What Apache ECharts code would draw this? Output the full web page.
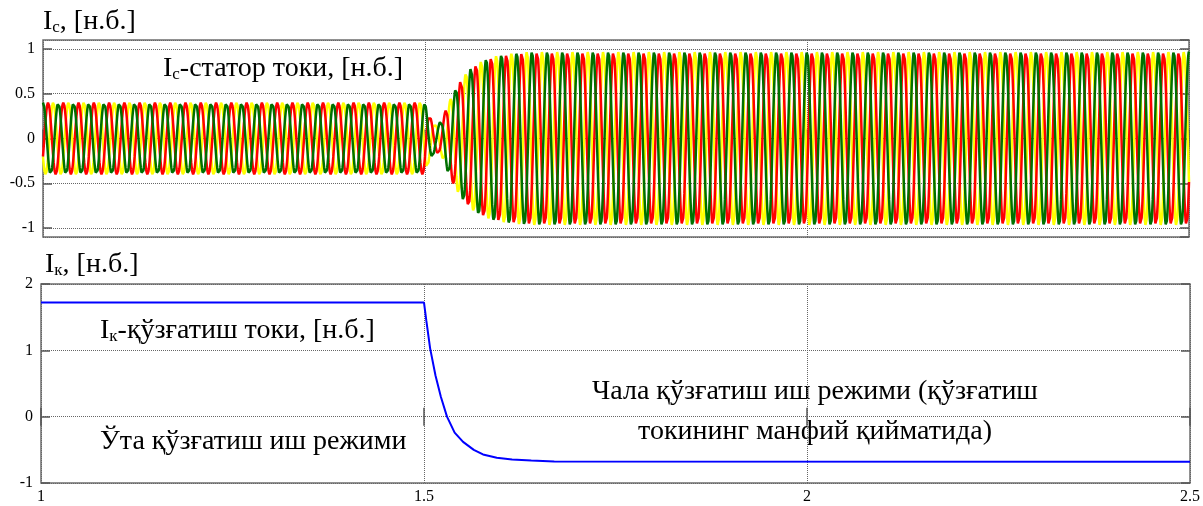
<!DOCTYPE html>
<html>
<head>
<meta charset="utf-8">
<script src="https://cdn.jsdelivr.net/npm/echarts@6/dist/echarts.min.js"></script>
<style>
  html, body { margin: 0; background: #fff; }
  #chart { width: 1203px; height: 506px; }
</style>
</head>
<body>
<div id="chart"></div>
<script>
// values
const timeMin = 1, timeMax = 2.5;
const statorRange = [-1.1, 1.1];
const fieldRange = [-1, 2];

// stator current amplitude envelope (t, amplitude)
const envTime = [1, 1.5, 1.506, 1.514, 1.522, 1.53, 1.538, 1.547, 1.56, 1.575, 1.59, 1.61, 1.635, 1.67, 2.5];
const envAmp  = [0.4, 0.4, 0.25, 0.15, 0.2, 0.38, 0.52, 0.66, 0.79, 0.87, 0.92, 0.95, 0.97, 0.97, 0.97];
const mainsHz = 50;
const phaseNames = ['A', 'B', 'C'];
const phaseColors = ['#007000', '#ff0000', '#ffff00'];
const phaseShift = [0, 1, 2]; // multiples of 120 degrees

// field (excitation) current
const fieldTime  = [1, 1.5, 1.503, 1.508, 1.515, 1.522, 1.53, 1.54, 1.551, 1.565, 1.577, 1.595, 1.615, 1.64, 1.67, 2.5];
const fieldValue = [1.72, 1.72, 1.45, 1.03, 0.62, 0.3, 0.0, -0.24, -0.38, -0.5, -0.57, -0.62, -0.645, -0.66, -0.675, -0.68];

const serif = 'Liberation Serif';

function envelope(t) {
  for (let i = 1; i < envTime.length; i++) {
    if (t <= envTime[i]) {
      const k = (t - envTime[i - 1]) / (envTime[i] - envTime[i - 1]);
      return envAmp[i - 1] + k * (envAmp[i] - envAmp[i - 1]);
    }
  }
  return envAmp[envAmp.length - 1];
}

function phaseData(p) {
  const out = [];
  const step = 0.0005;
  for (let t = timeMin; t <= timeMax + 1e-9; t += step) {
    const a = envelope(t);
    out.push([t, a * Math.cos(2 * Math.PI * mainsHz * (t - timeMin) - phaseShift[p] * 2 * Math.PI / 3)]);
  }
  return out;
}

const chart = echarts.init(document.getElementById('chart'));

const tickStyle = { show: true, inside: true, length: 9, lineStyle: { color: '#555', width: 1.5 } };
const gridLine = { show: true, lineStyle: { type: 'dotted', color: '#666', width: 1 } };
const labelFont = { fontFamily: serif, fontSize: 16, color: '#000' };

function xAxisFor(grid, pos, labels) {
  return {
    type: 'value', gridIndex: grid, position: pos, min: timeMin, max: timeMax, interval: 0.5,
    axisLine: { show: false },
    axisTick: tickStyle,
    splitLine: pos === 'bottom' ? gridLine : { show: false },
    axisLabel: labels ? Object.assign({ show: true, margin: 6 }, labelFont) : { show: false }
  };
}

function yAxisFor(grid, pos, range, interval, labels) {
  const ax = {
    type: 'value', gridIndex: grid, position: pos, min: range[0], max: range[1],
    axisLine: { show: false },
    axisTick: tickStyle,
    splitLine: pos === 'left' ? gridLine : { show: false },
    axisLabel: labels ? Object.assign({ show: true, margin: 8, showMinLabel: grid === 1, showMaxLabel: grid === 1 }, labelFont) : { show: false }
  };
  if (interval) ax.interval = interval; else ax.splitNumber = 4;
  return ax;
}

function richText(x, y, main, sub, rest, size) {
  return {
    type: 'text', x: x, y: y,
    style: {
      text: '{m|' + main + '}{s|' + sub + '}{m|' + rest + '}',
      rich: {
        m: { fontFamily: serif, fontSize: size, fill: '#000' },
        s: { fontFamily: serif, fontSize: Math.round(size * 0.62), fill: '#000', verticalAlign: 'bottom' }
      },
      align: 'left', verticalAlign: 'middle'
    }
  };
}

function plainText(x, y, txt, size, align) {
  return {
    type: 'text', x: x, y: y,
    style: { text: txt, fontFamily: serif, fontSize: size, fill: '#000', align: align || 'left', verticalAlign: 'middle' }
  };
}

const series = phaseNames.map((name, p) => ({
  name: name, type: 'line', xAxisIndex: 0, yAxisIndex: 0,
  data: phaseData(p), showSymbol: false, sampling: 'none',
  lineStyle: { color: phaseColors[p], width: 2.5 }
}));
// draw yellow first, green on top
series.reverse();

series.push({
  name: 'Ik', type: 'line', xAxisIndex: 2, yAxisIndex: 2,
  data: fieldTime.map((t, i) => [t, fieldValue[i]]),
  showSymbol: false,
  lineStyle: { color: '#0000ff', width: 2 }
});

chart.setOption({
  backgroundColor: '#fff',
  animation: false,
  grid: [
    { left: 43, right: 14, top: 40, height: 197, show: true, borderColor: '#6e6e6e', borderWidth: 1.5 },
    { left: 41, right: 11, top: 284, height: 199, show: true, borderColor: '#6e6e6e', borderWidth: 1.5 }
  ],
  xAxis: [
    xAxisFor(0, 'bottom', false),
    xAxisFor(0, 'top', false),
    xAxisFor(1, 'bottom', true),
    xAxisFor(1, 'top', false)
  ],
  yAxis: [
    yAxisFor(0, 'left', statorRange, null, true),
    yAxisFor(0, 'right', statorRange, null, false),
    yAxisFor(1, 'left', fieldRange, 1, true),
    yAxisFor(1, 'right', fieldRange, 1, false)
  ],
  series: series,
  graphic: [
    richText(43, 22, 'I', 'с', ', [н.б.]', 28),
    richText(163, 69, 'I', 'с', '-статор токи, [н.б.]', 28),
    richText(45, 265, 'I', 'к', ', [н.б.]', 28),
    richText(100, 331, 'I', 'к', '-қўзғатиш токи, [н.б.]', 28),
    plainText(100, 442, 'Ўта қўзғатиш иш режими', 28),
    plainText(815, 392, 'Чала қўзғатиш иш режими (қўзғатиш', 28, 'center'),
    plainText(815, 432, 'токининг манфий қийматида)', 28, 'center')
  ]
});
</script>
</body>
</html>
